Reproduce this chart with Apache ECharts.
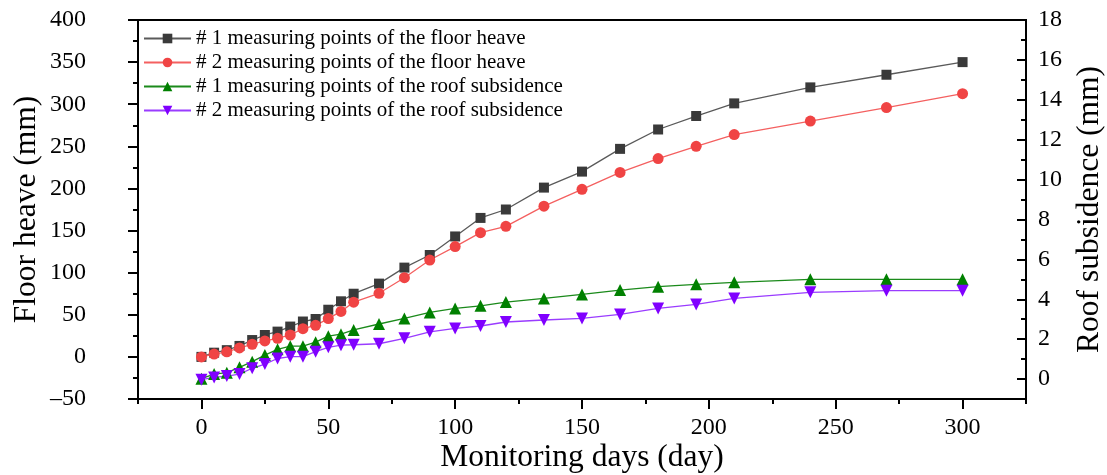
<!DOCTYPE html>
<html>
<head>
<meta charset="utf-8">
<script src="https://cdn.jsdelivr.net/npm/echarts@6/dist/echarts.min.js"></script>
<style>html,body{margin:0;padding:0;background:#fff;}#c{width:1107px;height:475px;}</style>
</head>
<body>
<div id="c"></div>
<script>
const days = [0,5,10,15,20,25,30,35,40,45,50,55,60,70,80,90,100,110,120,135,150,165,180,195,210,240,270,300];
const floor1 = [0,5,8,13,20,26,30,36,42,45,56,66,75,87,106,121,143,165,175,201,220,247,270,286,301,320,335,350];
const floor2 = [0,3.4,6,10.6,15,19,22,26,33.5,37.5,45.5,54,65,75.5,94,115,131,147.5,155,179,199,219,235.5,250,264,280,296,312.5];
const roof1 = [0.02,0.25,0.32,0.59,0.87,1.2,1.49,1.65,1.65,1.85,2.15,2.25,2.46,2.76,3.04,3.34,3.54,3.67,3.86,4.04,4.24,4.46,4.63,4.75,4.85,5.0,5.0,5.0];
const roof2 = [-0.03,0.08,0.15,0.25,0.54,0.75,1.03,1.12,1.12,1.37,1.59,1.7,1.72,1.77,2.04,2.37,2.54,2.66,2.86,2.96,3.04,3.24,3.54,3.74,4.04,4.35,4.43,4.43];
const names = [
  '# 1 measuring points of the floor heave',
  '# 2 measuring points of the floor heave',
  '# 1 measuring points of the roof subsidence',
  '# 2 measuring points of the roof subsidence'
];
const xMajor = [0,50,100,150,200,250,300];
const xMinor = [-25,25,75,125,175,225,275,325];
const rMajor = [0,2,4,6,8,10,12,14,16,18];
const rMinor = [1,3,5,7,9,11,13,15,17];

const FONT = 'Liberation Serif, Times New Roman, serif';
const pair = (ys) => days.map((d, i) => [d, ys[i]]);
const axisLine = { show: true, onZero: false, lineStyle: { color: '#000', width: 2 } };
const noLine = { show: false, onZero: false };
const dashFmt = (v) => String(v).replace('-', '\u2013');

const chart = echarts.init(document.getElementById('c'), null, { renderer: 'canvas' });
chart.setOption({
  animation: false,
  backgroundColor: '#fff',
  grid: { left: 138, right: 81, top: 20, bottom: 76, containLabel: false, outerBoundsMode: 'none',
          show: true, borderColor: '#000', borderWidth: 2, backgroundColor: 'transparent' },
  legend: {
    orient: 'vertical', left: 143, top: 28, padding: 0, itemWidth: 47, itemHeight: 12, itemGap: 3,
    textStyle: { fontFamily: FONT, fontSize: 21, color: '#000' },
    data: names
  },
  xAxis: [{
    type: 'value', min: -25, max: 325, interval: 25, position: 'bottom',
    axisLine: axisLine,
    axisTick: { show: true, customValues: xMajor, length: 10, lineStyle: { color: '#000', width: 2 } },
    axisLabel: { customValues: xMajor, fontFamily: FONT, fontSize: 24, color: '#000', margin: 17 },
    splitLine: { show: false },
    name: 'Monitoring days (day)', nameLocation: 'middle', nameGap: 43, nameMoveOverlap: false,
    nameTextStyle: { fontFamily: FONT, fontSize: 31.5, color: '#000' }
  }, {
    type: 'value', min: -25, max: 325, interval: 25, position: 'bottom',
    axisLine: noLine,
    axisTick: { show: true, customValues: xMinor, length: 5, lineStyle: { color: '#000', width: 2 } },
    axisLabel: { show: false }, splitLine: { show: false }
  }],
  yAxis: [{
    type: 'value', min: -50, max: 400, interval: 50, position: 'left',
    axisLine: axisLine,
    axisTick: { show: true, length: 10, lineStyle: { color: '#000', width: 2 } },
    minorTick: { show: true, splitNumber: 2, length: 5, lineStyle: { color: '#000', width: 2 } },
    axisLabel: { fontFamily: FONT, fontSize: 24, color: '#000', margin: 52, formatter: dashFmt },
    splitLine: { show: false }, minorSplitLine: { show: false },
    name: 'Floor heave (mm)', nameLocation: 'middle', nameGap: 95, nameRotate: 90, nameMoveOverlap: false,
    nameTextStyle: { fontFamily: FONT, fontSize: 31.5, color: '#000' }
  }, {
    type: 'value', min: -1, max: 18, interval: 1, position: 'right',
    axisLine: axisLine,
    axisTick: { show: true, inside: true, customValues: rMajor, length: 9, lineStyle: { color: '#000', width: 2 } },
    axisLabel: { customValues: rMajor, fontFamily: FONT, fontSize: 24, color: '#000', margin: 12 },
    splitLine: { show: false },
    name: 'Roof subsidence (mm)', nameLocation: 'middle', nameGap: 48, nameRotate: 90, nameMoveOverlap: false,
    nameTextStyle: { fontFamily: FONT, fontSize: 31.5, color: '#000' }
  }, {
    type: 'value', min: -1, max: 18, interval: 1, position: 'right',
    axisLine: noLine,
    axisTick: { show: true, inside: true, customValues: rMinor, length: 5, lineStyle: { color: '#000', width: 2 } },
    axisLabel: { show: false }, splitLine: { show: false }
  }],
  series: [{
    name: names[0], type: 'line', xAxisIndex: 0, yAxisIndex: 0, data: pair(floor1),
    symbol: 'rect', symbolSize: 10,
    itemStyle: { color: '#3a3a3a' }, lineStyle: { color: '#5a5a5a', width: 1.3 }
  }, {
    name: names[1], type: 'line', xAxisIndex: 0, yAxisIndex: 0, data: pair(floor2),
    symbol: 'circle', symbolSize: 11,
    itemStyle: { color: '#f04444' }, lineStyle: { color: '#f46060', width: 1.3 }
  }, {
    name: names[2], type: 'line', xAxisIndex: 0, yAxisIndex: 1, data: pair(roof1),
    symbol: 'triangle', symbolSize: 12,
    itemStyle: { color: '#008000' }, lineStyle: { color: '#1b8a1b', width: 1.3 }
  }, {
    name: names[3], type: 'line', xAxisIndex: 0, yAxisIndex: 1, data: pair(roof2),
    symbol: 'triangle', symbolRotate: 180, symbolSize: 12,
    itemStyle: { color: '#8000ff' }, lineStyle: { color: '#9a3cff', width: 1.3 }
  }]
});
</script>
</body>
</html>
